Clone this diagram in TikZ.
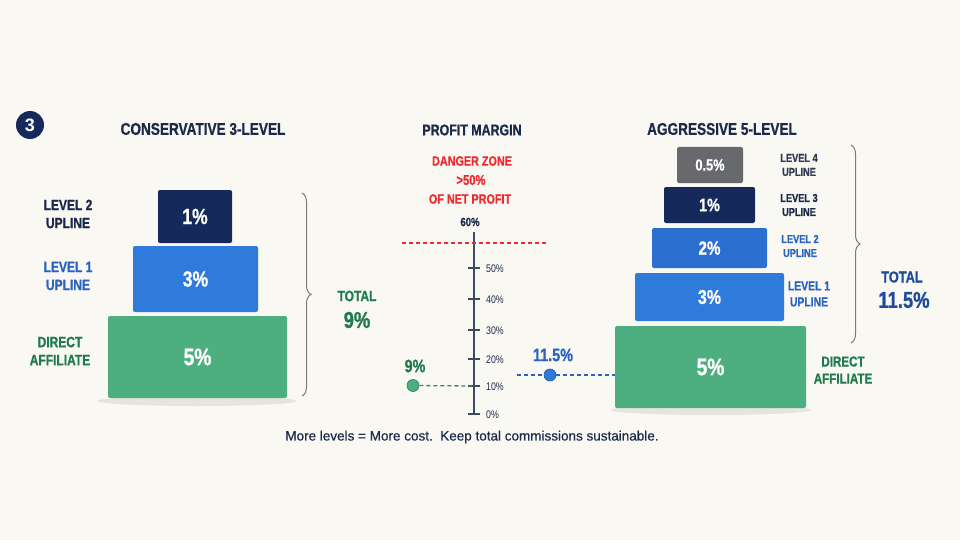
\documentclass[tikz,border=0pt]{standalone}
\usepackage{fontspec}
\setmainfont{Liberation Sans}
\newfontfamily\cond{Liberation Sans}[FakeStretch=0.8, BoldFeatures={FakeBold=0.8}]
\newfontfamily\footfont{Liberation Sans}[FakeBold=0.5]
\usetikzlibrary{decorations.pathreplacing}
\definecolor{bg}{HTML}{FAF8F3}
\definecolor{navy}{HTML}{15295A}
\definecolor{navytxt}{HTML}{1B2A4A}
\definecolor{blueA}{HTML}{2E7BDB}
\definecolor{blueB}{HTML}{2B70D0}
\definecolor{bluetxt}{HTML}{2A62C2}
\definecolor{greenbox}{HTML}{4DAE80}
\definecolor{greentxt}{HTML}{1F7A4C}
\definecolor{greendash}{HTML}{2E8B57}
\definecolor{graybox}{HTML}{68696C}
\definecolor{dangerred}{HTML}{EE2A2E}
\definecolor{totalblue}{HTML}{1F4B9A}
\definecolor{bracegray}{HTML}{7A7A7A}
\tikzset{
  bar/.style={rounded corners=2pt, inner sep=0pt, text=white, draw=none},
  pct/.style={font=\cond\bfseries\fontsize{#1}{#1}\selectfont},
  lab/.style 2 args={align=center, inner sep=0pt, font=\cond\bfseries\fontsize{#1}{#2}\selectfont},
  ttl/.style={inner sep=0pt, text=navytxt, font=\cond\bfseries\fontsize{17}{19}\selectfont},
  brc/.style={draw=bracegray, line width=1pt, decorate, decoration={brace, amplitude=9pt}},
  ticklab/.style={anchor=west, inner sep=0pt, text=navytxt, font=\cond\fontsize{11}{12}\selectfont},
  ballnode/.style={circle, inner sep=0pt, minimum size=12pt, fill=#1, draw=#1!70!black, line width=0.6pt},
  dashline/.style={draw=#1, line width=1.3pt, dash pattern=on 4pt off 3pt},
}
\begin{document}
\begin{tikzpicture}[x=1pt,y=-1pt]
\fill[bg] (0,0) rectangle (960,540);
\useasboundingbox (0,0) rectangle (960,540);

% badge
\node[circle, fill=navy, minimum size=28pt, inner sep=0pt, text=white,
  font=\bfseries\fontsize{18}{18}\selectfont] (badge) at (30,125) {3};

% ---------- left pyramid ----------
\node[ttl] (ltitle) at (203,129) {CONSERVATIVE 3-LEVEL};
\fill[black, opacity=0.08] (197,401) ellipse (100 and 5);
\node[bar, fill=greenbox, minimum width=179pt, minimum height=82pt, pct=24] (l5) at (197.5,357) {5\%};
\node[bar, fill=blueA, minimum width=125pt, minimum height=66pt, pct=22] (l3) at (195.5,279) {3\%};
\node[bar, fill=navy, minimum width=74pt, minimum height=53pt, pct=22] (l1) at (195,216.5) {1\%};

\node[lab={15}{18}, text=navytxt] (lab2) at (68,214) {LEVEL 2\\UPLINE};
\node[lab={15}{18}, text=bluetxt] (lab1) at (68,276) {LEVEL 1\\UPLINE};
\node[lab={15}{18}, text=greentxt] (labd) at (60,351) {DIRECT\\AFFILIATE};

\coordinate (lbt) at (302,193);
\coordinate (lbb) at (302,396);
\draw[brc] (lbt) -- (lbb);
\node[inner sep=0pt, text=greentxt, font=\cond\bfseries\fontsize{15}{15}\selectfont] (ltot) at (357,296) {TOTAL};
\node[inner sep=0pt, text=greentxt, font=\cond\bfseries\fontsize{23}{23}\selectfont] (ltotv) at (357,320) {9\%};

% ---------- middle axis ----------
\node[ttl, font=\cond\bfseries\fontsize{15.5}{17}\selectfont] (ptitle) at (472,130) {PROFIT MARGIN};
\node[inner sep=0pt, text=dangerred, font=\cond\bfseries\fontsize{13.5}{15}\selectfont] (dz1) at (472,161) {DANGER ZONE};
\node[inner sep=0pt, text=dangerred, font=\cond\bfseries\fontsize{14}{15}\selectfont] (dz2) at (471,180) {>50\%};
\node[inner sep=0pt, text=dangerred, font=\cond\bfseries\fontsize{13.5}{15}\selectfont] (dz3) at (470,199) {OF NET PROFIT};
\node[inner sep=0pt, text=navytxt, font=\cond\bfseries\fontsize{12}{12}\selectfont] (l60) at (470,222) {60\%};

\coordinate (axtop) at (474,232);
\coordinate (axbot) at (474,414);
\draw[draw=navytxt!85, line width=1.3pt] (axtop) -- (axbot);
\coordinate (dzl) at (402,243);
\coordinate (dzr) at (547,243);
\draw[dashline=dangerred] (dzl) -- (dzr);

\foreach \v/\yy in {50/268, 40/299, 30/330, 20/359, 10/386, 0/414} {
  \coordinate (tk\v) at (474,\yy);
  \draw[draw=navytxt!85, line width=1.3pt] ([xshift=-6pt]tk\v) -- ([xshift=6pt]tk\v);
  \node[ticklab] (tl\v) at (486,\yy+1) {\v\%};
}

% 9% marker
\node[inner sep=0pt, text=greentxt, font=\cond\bfseries\fontsize{18}{18}\selectfont] (m9) at (415,366) {9\%};
\node[ballnode=greenbox] (g9) at (413,385.5) {};
\draw[dashline=greendash] (g9) -- (tk10);

% 11.5% marker
\node[inner sep=0pt, text=bluetxt, font=\cond\bfseries\fontsize{18}{18}\selectfont] (m115) at (553,355) {11.5\%};
\node[ballnode=blueA] (b115) at (550,375) {};
\coordinate (bstart) at (517,375);

% ---------- right pyramid ----------
\node[ttl] (rtitle) at (722,129) {AGGRESSIVE 5-LEVEL};
\fill[black, opacity=0.08] (711,410) ellipse (100 and 5);
\node[bar, fill=greenbox, minimum width=191pt, minimum height=82pt, pct=24] (r5) at (710.5,367) {5\%};
\node[bar, fill=blueA, minimum width=149pt, minimum height=48pt, pct=20] (r3) at (709.5,297) {3\%};
\node[bar, fill=blueB, minimum width=115pt, minimum height=40pt, pct=19] (r2) at (709.5,248) {2\%};
\node[bar, fill=navy, minimum width=91pt, minimum height=36pt, pct=18] (r1) at (709.5,205) {1\%};
\node[bar, fill=graybox, minimum width=66pt, minimum height=36pt, pct=16] (r05) at (710,165) {0.5\%};

\draw[dashline=bluetxt] (bstart) -- (b115.west);
\draw[dashline=bluetxt] (b115.east) -- (r5.west |- b115);

\node[lab={11.5}{14}, text=navytxt!80!gray] (rl4) at (799,165) {LEVEL 4\\UPLINE};
\node[lab={11.5}{14}, text=navytxt] (rl3) at (799,205) {LEVEL 3\\UPLINE};
\node[lab={11.5}{14}, text=bluetxt] (rl2) at (800,246) {LEVEL 2\\UPLINE};
\node[lab={13}{16}, text=bluetxt] (rl1) at (809,294) {LEVEL 1\\UPLINE};
\node[lab={14.5}{17}, text=greentxt] (rld) at (843,370) {DIRECT\\AFFILIATE};

\coordinate (rbt) at (851,145);
\coordinate (rbb) at (851,343);
\draw[brc] (rbt) -- (rbb);
\node[inner sep=0pt, text=totalblue, font=\cond\bfseries\fontsize{16}{16}\selectfont] (rtot) at (902,277) {TOTAL};
\node[inner sep=0pt, text=totalblue, font=\cond\bfseries\fontsize{23}{23}\selectfont] (rtotv) at (904,300) {11.5\%};

% footer
\node[inner sep=0pt, text=navytxt, font=\footfont\fontsize{13.5}{16}\selectfont] (foot) at (472,437) {More levels = More cost.\ \ Keep total commissions sustainable.};
\end{tikzpicture}
\end{document}
